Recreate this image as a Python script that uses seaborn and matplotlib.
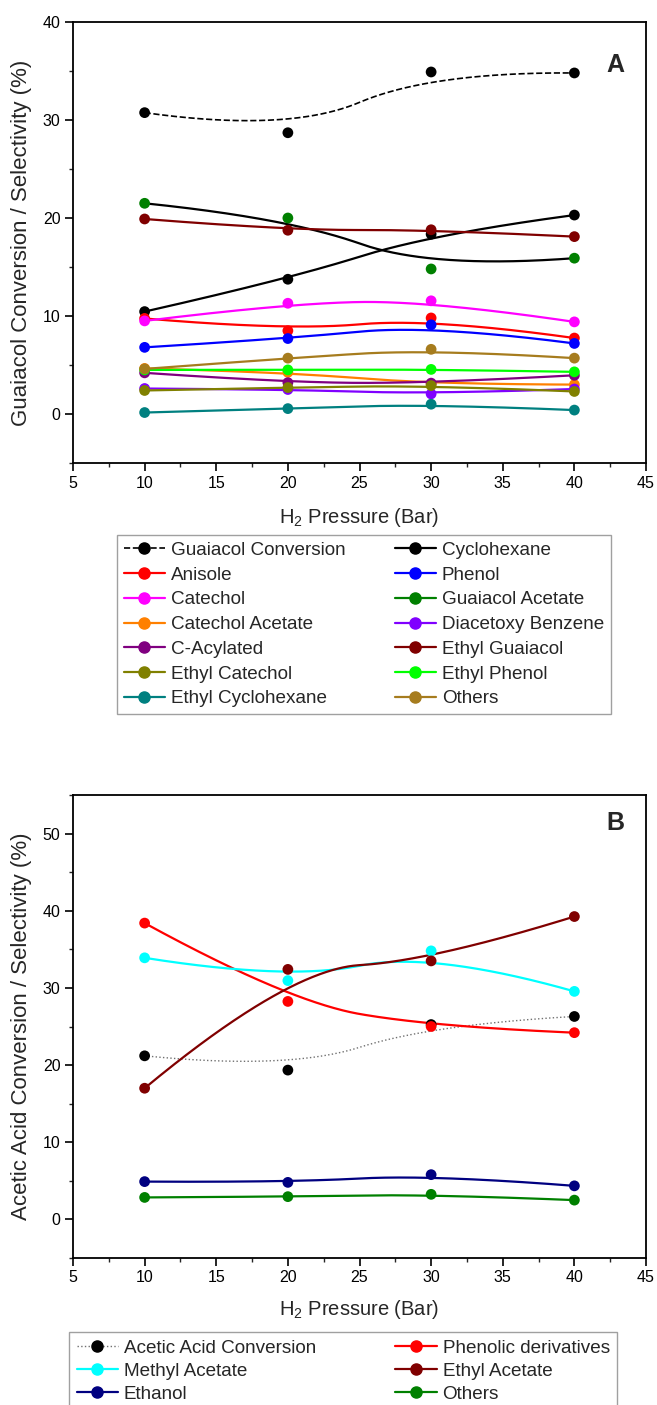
import numpy as np
import matplotlib
matplotlib.use("Agg")
import matplotlib.pyplot as plt
import seaborn as sns
from matplotlib.lines import Line2D
from matplotlib.ticker import MultipleLocator

# ---------------- data ----------------
pressure = [10, 20, 30, 40]

# Panel A (guaiacol)
a_labels = ["Guaiacol Conversion", "Cyclohexane", "Anisole", "Phenol", "Catechol",
            "Guaiacol Acetate", "Catechol Acetate", "Diacetoxy Benzene", "C-Acylated",
            "Ethyl Guaiacol", "Ethyl Catechol", "Ethyl Phenol", "Ethyl Cyclohexane", "Others"]
guaiacol_conv = [30.75, 28.7, 34.9, 34.8]
cyclohexane = [10.45, 13.75, 18.35, 20.3]
anisole = [9.75, 8.5, 9.8, 7.75]
phenol = [6.8, 7.7, 9.1, 7.2]
catechol = [9.5, 11.3, 11.55, 9.4]
guaiacol_acetate = [21.5, 20.0, 14.8, 15.9]
catechol_acetate = [4.65, 4.25, 3.05, 3.0]
diacetoxy_benzene = [2.6, 2.5, 2.05, 2.55]
c_acylated = [4.2, 3.2, 3.15, 3.95]
ethyl_guaiacol = [19.9, 18.75, 18.8, 18.1]
ethyl_catechol = [2.4, 2.7, 2.9, 2.3]
ethyl_phenol = [4.5, 4.5, 4.55, 4.3]
ethyl_cyclohexane = [0.15, 0.55, 1.0, 0.4]
others_a = [4.6, 5.7, 6.6, 5.7]
a_values = [guaiacol_conv, cyclohexane, anisole, phenol, catechol, guaiacol_acetate,
            catechol_acetate, diacetoxy_benzene, c_acylated, ethyl_guaiacol,
            ethyl_catechol, ethyl_phenol, ethyl_cyclohexane, others_a]

# Panel B (acetic acid)
b_labels = ["Acetic Acid Conversion", "Phenolic derivatives", "Methyl Acetate",
            "Ethyl Acetate", "Ethanol", "Others"]
acetic_conv = [21.2, 19.35, 25.25, 26.3]
phenolic = [38.4, 28.25, 25.0, 24.2]
methyl_acetate = [33.9, 30.95, 34.8, 29.55]
ethyl_acetate = [17.0, 32.4, 33.5, 39.25]
ethanol = [4.9, 4.8, 5.8, 4.35]
others_b = [2.85, 2.95, 3.25, 2.5]
b_values = [acetic_conv, phenolic, methyl_acetate, ethyl_acetate, ethanol, others_b]

# ---------------- styles ----------------
a_point_colors = ["#000000", "#000000", "#FF0000", "#0000FF", "#FF00FF", "#008000",
                  "#FF8000", "#8000FF", "#800080", "#800000", "#808000", "#00FF00",
                  "#008080", "#A67C1E"]
a_line_colors = list(a_point_colors)
a_line_colors[5] = "#000000"          # fit line of guaiacol acetate is drawn black
a_styles = ["--"] + ["-"] * 13
a_widths = [1.2] + [1.6] * 13

b_point_colors = ["#000000", "#FF0000", "#00FFFF", "#800000", "#000080", "#008000"]
b_line_colors = ["#707070", "#FF0000", "#00FFFF", "#800000", "#000080", "#008000"]
b_styles = [":"] + ["-"] * 5
b_widths = [1.0] + [1.6] * 5

sns.set_style("ticks")
plt.rcParams["font.family"] = ["Liberation Sans", "DejaVu Sans"]
plt.rcParams["mathtext.fontset"] = "custom"
plt.rcParams["mathtext.rm"] = "Liberation Sans"


def bspline(vals, degree=2, n=300):
    """Clamped uniform B-spline curve using the data points as control points."""
    P = np.asarray(vals, dtype=float)
    m = len(P)
    k = degree
    knots = np.concatenate([[0.0] * k, np.linspace(0, 1, m - k + 1), [1.0] * k])
    t = np.linspace(0, 1, n)
    t[-1] -= 1e-9

    def N(i, d):
        if d == 0:
            return ((knots[i] <= t) & (t < knots[i + 1])).astype(float)
        out = np.zeros_like(t)
        den1 = knots[i + d] - knots[i]
        den2 = knots[i + d + 1] - knots[i + 1]
        if den1 > 0:
            out += (t - knots[i]) / den1 * N(i, d - 1)
        if den2 > 0:
            out += (knots[i + d + 1] - t) / den2 * N(i + 1, d - 1)
        return out

    return sum(N(i, k) * P[i] for i in range(m))


W, H = 657, 1405
fig = plt.figure(figsize=(W / 100, H / 100), dpi=100)
axA = fig.add_axes([73 / W, 1 - 463 / H, 573 / W, 441 / H])
axB = fig.add_axes([73 / W, 1 - 1258 / H, 573 / W, 463 / H])


def draw(ax, values, pcolors, lcolors, styles, widths):
    for vals, pc, lc, ls, lw in zip(values, pcolors, lcolors, styles, widths):
        xs = bspline(pressure)
        ys = bspline(vals)
        sns.lineplot(x=xs, y=ys, ax=ax, color=lc, lw=lw, linestyle=ls,
                     sort=False, estimator=None, legend=False, zorder=2)
        sns.scatterplot(x=pressure, y=vals, ax=ax, color=pc, s=60,
                        edgecolor="none", legend=False, zorder=3)


draw(axA, a_values, a_point_colors, a_line_colors, a_styles, a_widths)
draw(axB, b_values, b_point_colors, b_line_colors, b_styles, b_widths)


def style_axes(ax, ylim, yticks, ylabel, tag, tag_y):
    ax.set_xlim(5, 45)
    ax.set_ylim(*ylim)
    ax.set_xticks(list(range(5, 46, 5)))
    ax.set_yticks(yticks)
    ax.xaxis.set_minor_locator(MultipleLocator(2.5))
    ax.yaxis.set_minor_locator(MultipleLocator(5))
    ax.tick_params(axis="both", which="major", direction="out", length=5.5, width=1.2,
                   labelsize=11.5, color="black", labelcolor="black",
                   top=False, right=False)
    ax.tick_params(axis="both", which="minor", direction="out", length=3, width=1.0,
                   top=False, right=False)
    for sp in ax.spines.values():
        sp.set_visible(True)
        sp.set_color("black")
        sp.set_linewidth(1.3)
    ax.set_xlabel("H$\\mathregular{_2}$ Pressure (Bar)", fontsize=14.5)
    ax.set_ylabel(ylabel, fontsize=16)
    ax.yaxis.set_label_coords(-0.072, 0.5)
    ax.text(0.946, tag_y, tag, transform=ax.transAxes, fontsize=18,
            fontweight="bold", ha="center", va="center")


style_axes(axA, (-5, 40), [0, 10, 20, 30, 40],
           "Guaiacol Conversion / Selectivity (%)", "A", 0.902)
style_axes(axB, (-5, 55), [0, 10, 20, 30, 40, 50],
           "Acetic Acid Conversion / Selectivity (%)", "B", 0.94)
axA.xaxis.set_label_coords(0.5, -0.097)
axB.xaxis.set_label_coords(0.5, -0.086)


def handles(pcolors, lcolors, styles, widths):
    hs = []
    for pc, lc, ls, lw in zip(pcolors, lcolors, styles, widths):
        hs.append(Line2D([0], [0], color=lc, ls=ls, lw=lw, marker="o",
                         markersize=8, markerfacecolor=pc, markeredgecolor=pc))
    return hs


def row_major(items, ncol=2):
    # matplotlib fills legends column by column; reorder so entries read row-wise
    return [items[i] for c in range(ncol) for i in range(c, len(items), ncol)]


hA = handles(a_point_colors, a_point_colors, a_styles, a_widths)
legA = fig.legend(row_major(hA), row_major(a_labels),
                  loc="upper left", bbox_to_anchor=(117 / W, 1 - 535 / H), ncol=2,
                  fontsize=13.6, frameon=True, fancybox=False, edgecolor="#888888",
                  borderaxespad=0, borderpad=0.35, handlelength=2.2, handletextpad=0.3,
                  columnspacing=2.6, labelspacing=0.4)
legA.get_frame().set_linewidth(1.0)

hB = handles(b_point_colors, b_line_colors, b_styles, b_widths)
legB = fig.legend(row_major(hB), row_major(b_labels),
                  loc="upper left", bbox_to_anchor=(69 / W, 1 - 1332 / H), ncol=2,
                  fontsize=13.6, frameon=True, fancybox=False, edgecolor="#888888",
                  borderaxespad=0, borderpad=0.4, handlelength=2.2, handletextpad=0.3,
                  columnspacing=4.2, labelspacing=0.3)
legB.get_frame().set_linewidth(1.0)

fig.savefig("out.png", dpi=100)
